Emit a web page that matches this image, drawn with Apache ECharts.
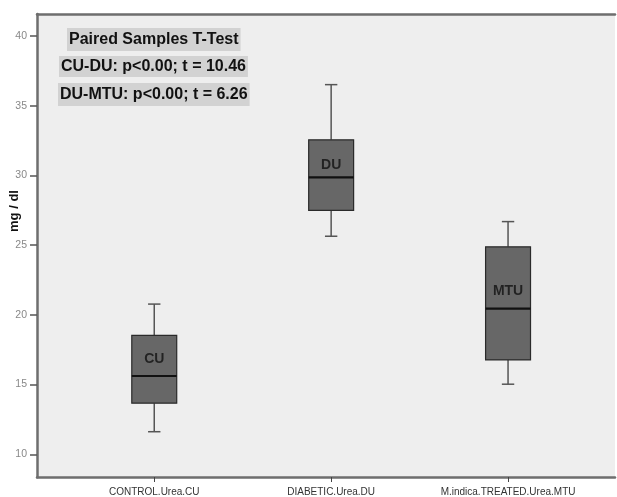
<!DOCTYPE html>
<html>
<head>
<meta charset="utf-8">
<script src="https://cdn.jsdelivr.net/npm/echarts@6/dist/echarts.min.js"></script>
<style>
html,body{margin:0;padding:0;background:#fff;}
#c{width:617px;height:497px;}
</style>
</head>
<body>
<div id="c"></div>
<script>
var categories = ['CONTROL.Urea.CU', 'DIABETIC.Urea.DU', 'M.indica.TREATED.Urea.MTU'];
var boxLabels = ['CU', 'DU', 'MTU'];
var lowWhisker = [11.60, 25.63, 15.01];
var q1Values = [13.65, 27.49, 16.75];
var medianValues = [15.60, 29.85, 20.43];
var q3Values = [18.52, 32.55, 24.87];
var highWhisker = [20.76, 36.51, 26.68];
var boxLabelY = [16.8, 30.7, 21.7];
var yTicks = [10, 15, 20, 25, 30, 35, 40];
var annotations = ['Paired Samples T-Test', 'CU-DU: p<0.00; t = 10.46', 'DU-MTU: p<0.00; t = 6.26'];
var yAxisName = 'mg / dl';

var boxData = categories.map(function (c, i) {
  return [i, lowWhisker[i], q1Values[i], medianValues[i], q3Values[i], highWhisker[i]];
});
var labelData = categories.map(function (c, i) {
  return { value: [i, boxLabelY[i]], label: { formatter: boxLabels[i] } };
});

var chart = echarts.init(document.getElementById('c'));
var axisCol = '#6e6e6e';

var option = {
  animation: false,
  backgroundColor: '#ffffff',
  grid: [
    { left: 37, top: 14, right: 2, bottom: 19.7, show: true, backgroundColor: '#eeeeee', borderWidth: 0 },
    { left: 37, top: 36, right: 2, bottom: 42.7 },
    { left: 65.8, top: 14, right: 20.5, bottom: 19.7 }
  ],
  xAxis: [
    { gridIndex: 0, type: 'value', min: 0, max: 1, position: 'bottom',
      axisLine: { show: true, lineStyle: { color: axisCol, width: 2.5 } },
      axisTick: { show: false }, axisLabel: { show: false }, splitLine: { show: false } },
    { gridIndex: 0, type: 'value', min: 0, max: 1, position: 'top',
      axisLine: { show: true, lineStyle: { color: axisCol, width: 2.5 } },
      axisTick: { show: false }, axisLabel: { show: false }, splitLine: { show: false } },
    { gridIndex: 1, type: 'value', min: 0, max: 1, show: false },
    { gridIndex: 2, type: 'category', data: categories,
      axisLine: { show: false },
      axisTick: { show: true, alignWithLabel: true, length: 5, lineStyle: { color: '#444', width: 1 } },
      axisLabel: { color: '#333', fontSize: 10, fontFamily: 'Liberation Sans', margin: 10 },
      splitLine: { show: false } }
  ],
  yAxis: [
    { gridIndex: 0, type: 'value', min: 0, max: 1,
      axisLine: { show: true, lineStyle: { color: axisCol, width: 2.5 } },
      axisTick: { show: false }, axisLabel: { show: false }, splitLine: { show: false } },
    { gridIndex: 1, type: 'value', min: yTicks[0], max: yTicks[yTicks.length - 1], interval: 5,
      axisLine: { show: false },
      axisTick: { show: true, length: 7, lineStyle: { color: '#555', width: 1.5 } },
      axisLabel: { color: '#888', fontSize: 10.5, fontFamily: 'Liberation Sans', margin: 10 },
      splitLine: { show: false } },
    { gridIndex: 2, type: 'value', min: 8.35, max: 41.58, show: false }
  ],
  graphic: [
    { type: 'text', x: 14, y: 211, rotation: Math.PI / 2,
      style: { text: yAxisName, font: 'bold 13px "Liberation Sans"', fill: '#111', align: 'center', verticalAlign: 'middle' } },
    { type: 'text', x: 67, y: 39.5,
      style: { text: annotations[0], font: 'bold 16px "Liberation Sans"', fill: '#111', verticalAlign: 'middle',
        backgroundColor: '#d2d2d2', padding: [4, 2, 3, 2] } },
    { type: 'text', x: 59, y: 66.5,
      style: { text: annotations[1], font: 'bold 16px "Liberation Sans"', fill: '#111', verticalAlign: 'middle',
        backgroundColor: '#d2d2d2', padding: [3, 2, 2, 2] } },
    { type: 'text', x: 58, y: 94.5,
      style: { text: annotations[2], font: 'bold 16px "Liberation Sans"', fill: '#111', verticalAlign: 'middle',
        backgroundColor: '#d2d2d2', padding: [4, 2, 3, 2] } }
  ],
  series: [
    {
      type: 'custom', xAxisIndex: 3, yAxisIndex: 2,
      data: boxData,
      renderItem: function (params, api) {
        var x = api.value(0);
        var pLow = api.coord([x, api.value(1)]);
        var pQ1 = api.coord([x, api.value(2)]);
        var pMed = api.coord([x, api.value(3)]);
        var pQ3 = api.coord([x, api.value(4)]);
        var pHigh = api.coord([x, api.value(5)]);
        var band = api.size([1, 0])[0];
        var bw = band * 0.254;
        var cw = band * 0.07;
        var cx = pMed[0];
        var wStyle = { stroke: '#555', lineWidth: 1.5 };
        return {
          type: 'group',
          children: [
            { type: 'line', shape: { x1: cx, y1: pHigh[1], x2: cx, y2: pQ3[1] }, style: wStyle },
            { type: 'line', shape: { x1: cx, y1: pQ1[1], x2: cx, y2: pLow[1] }, style: wStyle },
            { type: 'line', shape: { x1: cx - cw / 2, y1: pHigh[1], x2: cx + cw / 2, y2: pHigh[1] }, style: wStyle },
            { type: 'line', shape: { x1: cx - cw / 2, y1: pLow[1], x2: cx + cw / 2, y2: pLow[1] }, style: wStyle },
            { type: 'rect', shape: { x: cx - bw / 2, y: pQ3[1], width: bw, height: pQ1[1] - pQ3[1] },
              style: { fill: '#676767', stroke: '#2a2a2a', lineWidth: 1.2 } },
            { type: 'line', shape: { x1: cx - bw / 2, y1: pMed[1], x2: cx + bw / 2, y2: pMed[1] },
              style: { stroke: '#111', lineWidth: 2.2 } }
          ]
        };
      }
    },
    {
      type: 'scatter', xAxisIndex: 3, yAxisIndex: 2,
      symbolSize: 0, data: labelData, z: 5,
      label: { show: true, position: 'inside', color: '#111', fontWeight: 'bold', fontSize: 14, fontFamily: 'Liberation Sans' }
    }
  ]
};
chart.setOption(option);
</script>
</body>
</html>
